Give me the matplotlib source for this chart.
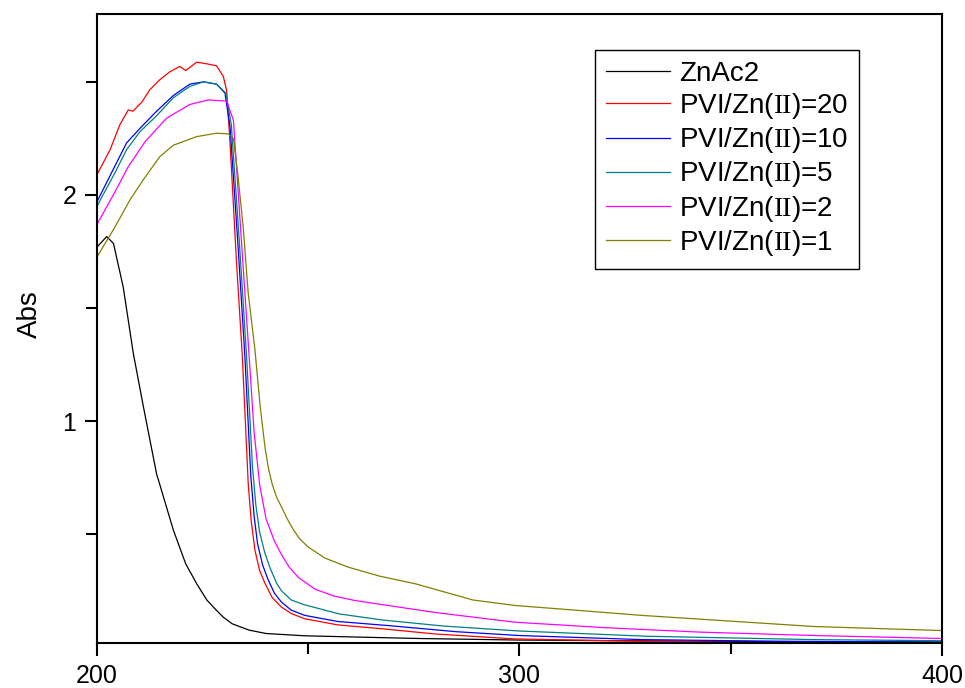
import matplotlib
matplotlib.use('Agg')
import matplotlib.pyplot as plt
from matplotlib.ticker import MultipleLocator

plt.rcParams['font.family'] = ['Liberation Sans', 'DejaVu Sans']
plt.rcParams['mathtext.fontset'] = 'custom'
plt.rcParams['mathtext.rm'] = 'Liberation Serif'

# wavelength (nm) / absorbance
x_znac = [200, 202.3, 203.9, 206.2, 208.6, 211, 214.1, 218.1, 221, 223.6, 226, 228, 229.9,
          232, 236, 240, 249, 260, 276, 300, 350, 400]
y_znac = [1.77, 1.816, 1.786, 1.594, 1.30, 1.063, 0.768, 0.518, 0.37, 0.282, 0.21, 0.17, 0.134,
          0.105, 0.077, 0.062, 0.052, 0.047, 0.040, 0.033, 0.027, 0.024]

x_20 = [200, 203.1, 205.4, 207.4, 208.5, 210.6, 212.5, 214.9, 217.3, 219.6, 221, 223.6, 225.9,
        228.3, 229.9, 230.7, 231.5, 233.0, 234.4, 235.8, 236.5, 237.4, 238.5, 239.8, 241.5,
        243.7, 246, 249.2, 257, 267.4, 280, 298.9, 330, 360, 400]
y_20 = [2.09, 2.20, 2.31, 2.376, 2.37, 2.41, 2.465, 2.51, 2.545, 2.568, 2.55, 2.587, 2.58,
        2.571, 2.524, 2.46, 2.229, 1.71, 1.29, 0.724, 0.56, 0.429, 0.34, 0.282, 0.22,
        0.178, 0.15, 0.127, 0.10, 0.083, 0.06, 0.038, 0.027, 0.022, 0.02]

x_10 = [200, 204.3, 207, 210.2, 214.1, 218.1, 222, 225.2, 228.3, 230.3, 231.5, 233.3, 235.0,
        236.4, 237.2, 238, 239.2, 240.5, 242, 243.7, 246, 249.2, 257, 269, 285, 300, 329, 360, 400]
y_10 = [1.97, 2.13, 2.23, 2.295, 2.37, 2.44, 2.49, 2.50, 2.49, 2.45, 2.30, 1.80, 1.29,
        0.76, 0.58, 0.46, 0.365, 0.30, 0.24, 0.20, 0.165, 0.142, 0.115, 0.097, 0.07, 0.053,
        0.035, 0.028, 0.024]

x_5 = [200, 204.3, 207, 210.2, 214.1, 218.1, 222, 225.2, 228.3, 230.5, 231.8, 233.6, 235.4,
       236.8, 237.6, 238.5, 239.7, 241, 242.5, 243.7, 246, 248.9, 257.2, 267.4, 282, 300, 330,
       369.6, 400]
y_5 = [1.95, 2.10, 2.20, 2.28, 2.35, 2.43, 2.48, 2.50, 2.49, 2.45, 2.31, 1.82, 1.29,
       0.80, 0.63, 0.51, 0.42, 0.35, 0.285, 0.25, 0.21, 0.19, 0.149, 0.122, 0.095, 0.073, 0.05,
       0.035, 0.03]

x_2 = [200, 204.3, 207.4, 211.4, 216.5, 222, 226.3, 230.7, 232.3, 234, 236.0, 237.2, 238.5,
       240, 242, 243.7, 245.5, 247.6, 251.6, 256, 261, 267.4, 280, 298.9, 320, 342.8, 370, 400]
y_2 = [1.87, 2.015, 2.125, 2.236, 2.34, 2.40, 2.42, 2.415, 2.33, 1.85, 1.29, 0.95, 0.72,
       0.57, 0.47, 0.41, 0.355, 0.311, 0.258, 0.228, 0.208, 0.19, 0.155, 0.112, 0.088, 0.068,
       0.053, 0.04]

x_1 = [200, 204.3, 207.8, 210.9, 214.9, 218.1, 223.6, 228.3, 231.1, 232.3, 233.4, 234.6, 235.8,
       237.4, 238.6, 239.8, 240.6, 241.5, 242.5, 243.7, 245, 246.5, 248, 250, 254, 259.5, 267,
       275.3, 289, 298.9, 329, 369.6, 400]
y_1 = [1.726, 1.86, 1.978, 2.066, 2.17, 2.22, 2.258, 2.273, 2.27, 2.25, 2.08, 1.86, 1.565,
       1.314, 1.07, 0.88, 0.79, 0.72, 0.665, 0.62, 0.57, 0.52, 0.48, 0.444, 0.395, 0.355, 0.315,
       0.282, 0.21, 0.186, 0.142, 0.093, 0.075]

labels = ['ZnAc2', r'PVI/Zn($\mathrm{II}$)=20', r'PVI/Zn($\mathrm{II}$)=10',
          r'PVI/Zn($\mathrm{II}$)=5', r'PVI/Zn($\mathrm{II}$)=2', r'PVI/Zn($\mathrm{II}$)=1']
colors = ['black', '#ff0000', '#0000ff', '#008080', '#ff00ff', '#808000']
series = [(x_znac, y_znac), (x_20, y_20), (x_10, y_10), (x_5, y_5), (x_2, y_2), (x_1, y_1)]

fig = plt.figure(figsize=(9.65, 6.88), dpi=100)
ax = fig.add_axes([0.1005, 0.0654, 0.8756, 0.9143])

for (xs, ys), c, lab in zip(series, colors, labels):
    ax.plot(xs, ys, color=c, lw=0.9, label=lab)

ax.set_xlim(200, 400)
ax.set_ylim(0.02, 2.80)
ax.xaxis.set_major_locator(MultipleLocator(100))
ax.xaxis.set_minor_locator(MultipleLocator(50))
ax.yaxis.set_major_locator(MultipleLocator(1))
ax.yaxis.set_minor_locator(MultipleLocator(0.5))
ax.tick_params(which='both', direction='out', width=1.5, labelsize=18, pad=6)
ax.tick_params(which='major', length=9)
ax.tick_params(which='minor', length=8)
for sp in ax.spines.values():
    sp.set_linewidth(1.5)

ax.set_ylabel('Abs', fontsize=20)
ax.yaxis.set_label_coords(-0.064, 0.523)

leg = ax.legend(loc='upper right', bbox_to_anchor=(0.902, 0.943), fontsize=20,
                handlelength=2.3, handletextpad=0.3, labelspacing=0.15,
                fancybox=False, framealpha=1, borderpad=0.4, borderaxespad=0)
leg.get_frame().set_edgecolor('black')
leg.get_frame().set_linewidth(1.0)

fig.savefig('out.png', dpi=100)
